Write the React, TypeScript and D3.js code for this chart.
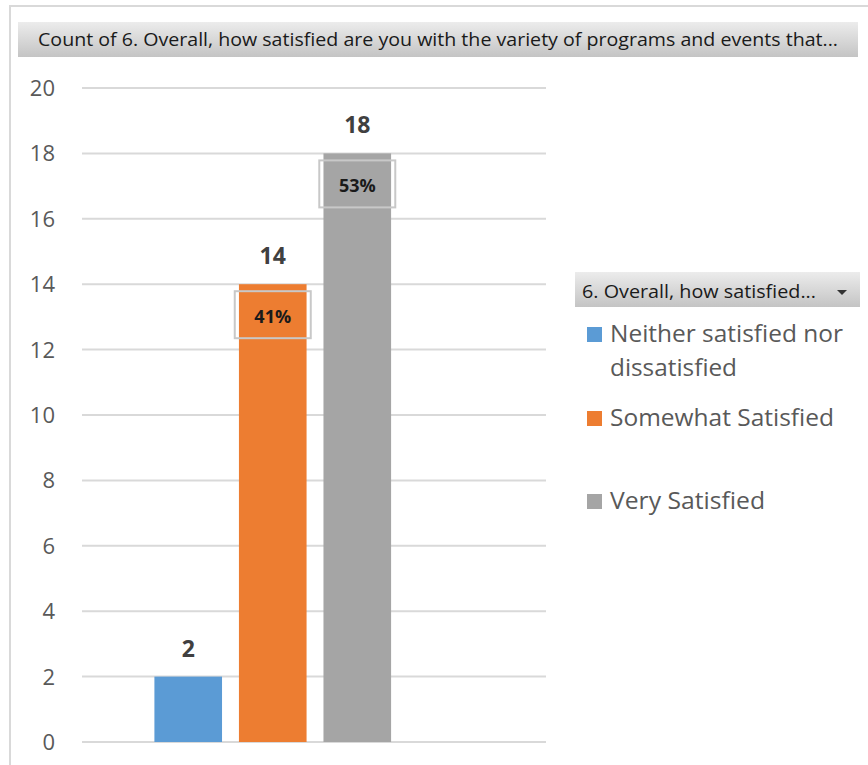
import React from "react";
import * as d3 from "d3";

const categories = ["Neither satisfied nor dissatisfied", "Somewhat Satisfied", "Very Satisfied"];
const counts = [2, 14, 18];
const percents = ["", "41%", "53%"];
const colors = ["#5b9bd5", "#ed7d31", "#a5a5a5"];
const yTicks = [0, 2, 4, 6, 8, 10, 12, 14, 16, 18, 20];
const legendLines = [["Neither satisfied nor", "dissatisfied"], ["Somewhat Satisfied"], ["Very Satisfied"]];
const legendWidths = [[233, 127], [224], [155]];
const chartTitle = "Count of 6. Overall, how satisfied are you with the variety of programs and events that...";
const legendTitle = "6. Overall, how satisfied...";

const FONT = "'Open Sans', 'Noto Sans', sans-serif";

export default function App() {
  const W = 868, H = 765;
  const y = d3.scaleLinear().domain([0, 20]).range([742, 88]);
  const x = d3.scaleBand<string>().domain(categories).range([137.5, 408]).paddingInner(0.2).paddingOuter(0.2);
  const gridX0 = 82, gridX1 = 546;
  const legendY = [334, 418, 501];
  return (
    <svg width={W} height={H} style={{ position: "absolute", left: 0, top: 0, background: "#fff" }} fontFamily={FONT}>
      <defs>
        <linearGradient id="hdr" x1="0" y1="0" x2="0" y2="1">
          <stop offset="0" stopColor="#ececec" />
          <stop offset="1" stopColor="#c4c4c4" />
        </linearGradient>
      </defs>
      <rect x={10} y={6} width={W + 10} height={H + 10} fill="#fff" stroke="#d9d9d9" strokeWidth={2} />
      {/* title bar */}
      <rect x={18} y={22} width={840} height={35} fill="url(#hdr)" />
      <text x={38} y={46} fontSize={18} fill="#1a1a1a" textLength={800} lengthAdjust="spacingAndGlyphs">{chartTitle}</text>
      {/* gridlines and y labels */}
      {yTicks.map((t) => (
        <g key={t}>
          <line x1={gridX0} x2={gridX1} y1={y(t)} y2={y(t)} stroke="#d9d9d9" strokeWidth={2} />
          <text x={55} y={y(t) + 8} textAnchor="end" fontSize={22} fill="#595959">{t}</text>
        </g>
      ))}
      {/* bars */}
      {categories.map((c, i) => {
        const bx = x(c)!;
        const bw = x.bandwidth();
        const cx = bx + bw / 2;
        return (
          <g key={c}>
            <rect x={bx} y={y(counts[i])} width={bw} height={y(0) - y(counts[i])} fill={colors[i]} />
            <text x={cx} y={y(counts[i]) - 20} textAnchor="middle" fontSize={23} fontWeight="bold" fill="#404040">{counts[i]}</text>
            {percents[i] && (
              <g>
                <rect x={cx - 38} y={y(counts[i]) + 7} width={76} height={47} fill="none" stroke="#c8c8c8" strokeWidth={2} />
                <text x={cx} y={y(counts[i]) + 39} textAnchor="middle" fontSize={18} fontWeight="bold" fill="#1a1a1a">{percents[i]}</text>
              </g>
            )}
          </g>
        );
      })}
      {/* legend */}
      <rect x={575} y={272} width={285} height={35} fill="url(#hdr)" />
      <text x={582} y={298} fontSize={18} fill="#1a1a1a" textLength={234} lengthAdjust="spacingAndGlyphs">{legendTitle}</text>
      <path d="M837,290 L847,290 L842,295 Z" fill="#333" />
      {categories.map((c, i) => (
        <g key={c}>
          <rect x={587} y={legendY[i] - 7} width={15} height={15} fill={colors[i]} />
          {legendLines[i].map((ln, j) => (
            <text key={j} x={610} y={legendY[i] + 8 + j * 34} fontSize={24} fill="#595959"
              textLength={legendWidths[i][j]} lengthAdjust="spacingAndGlyphs">{ln}</text>
          ))}
        </g>
      ))}
    </svg>
  );
}
